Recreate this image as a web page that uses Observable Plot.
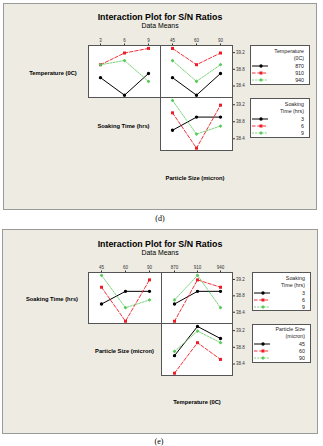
<!DOCTYPE html>
<html><head><meta charset="utf-8">
<script src="https://cdn.jsdelivr.net/npm/d3@7"></script>
<script src="https://cdn.jsdelivr.net/npm/@observablehq/plot@0.6"></script>
<style>
body{margin:0;background:#fff;}
#page{position:relative;width:323px;height:446px;overflow:hidden;font-family:"Liberation Sans",Arial,sans-serif;color:#000;}
.panel{position:absolute;box-sizing:border-box;border:1px solid #9a9a9a;background:#eeebe3;}
.lbl{position:absolute;white-space:nowrap;transform:translate(-50%,-50%);line-height:1;}
.cell,.leg{position:absolute;overflow:visible;}
</style></head><body><div id="page"></div><script>
// ---- data: L9 runs (Temperature, Soaking time, Particle size) and S/N ratio ----
const temperatureLevels = ["870", "910", "940"];
const soakingLevels = ["3", "6", "9"];
const particleLevels = ["45", "60", "90"];
const runTemperature = ["870", "870", "870", "910", "910", "910", "940", "940", "940"];
const runSoaking     = ["3", "6", "9", "3", "6", "9", "3", "6", "9"];
const runParticle    = ["45", "60", "90", "60", "90", "45", "90", "45", "60"];
const runSN          = [38.60, 38.18, 38.70, 38.91, 39.19, 39.30, 38.91, 39.01, 38.51];
const yTicks = [38.4, 38.8, 39.2];
const chartTitle = "Interaction Plot for S/N Ratios";
const chartSubtitle = "Data Means";

const factors = {
  T: {label: "Temperature (0C)", legend: ["Temperature", "(0C)"], levels: temperatureLevels, values: runTemperature},
  S: {label: "Soaking Time (hrs)", legend: ["Soaking", "Time (hrs)"], levels: soakingLevels, values: runSoaking},
  P: {label: "Particle Size (micron)", legend: ["Particle Size", "(micron)"], levels: particleLevels, values: runParticle}
};
const colors = ["#000000", "#ee1c25", "#5cc95c"];
const symbols = ["circle", "square", "diamond2"];
const dashes = [null, "3.5,1.8", "2,1.2"];
const widths = [1, 0.9, 0.8];
const yDomain = [38.125, 39.37];
const FONT = "'Liberation Sans', Arial, sans-serif";

const page = document.getElementById("page");

function panel(x0, y0, x1, y1) {
  const d = document.createElement("div");
  d.className = "panel";
  Object.assign(d.style, {left: x0 + "px", top: y0 + "px", width: (x1 - x0) + "px", height: (y1 - y0) + "px"});
  page.appendChild(d);
}
function label(text, cx, cy, size, bold, family) {
  const d = document.createElement("div");
  d.className = "lbl";
  d.textContent = text;
  Object.assign(d.style, {left: cx + "px", top: cy + "px", fontSize: size + "px", fontWeight: bold ? "bold" : "normal", fontFamily: family || FONT});
  page.appendChild(d);
}

function cell(rowKey, colKey, x0, x1, y0, y1, top, right) {
  const rowF = factors[rowKey], colF = factors[colKey];
  const data = runSN.map((v, i) => ({x: colF.values[i], g: rowF.values[i], v}))
    .sort((a, b) => colF.levels.indexOf(a.x) - colF.levels.indexOf(b.x));
  const mt = top ? 9 : 0, mr = right ? 16 : 0;
  const chart = Plot.plot({
    width: (x1 - x0) + mr, height: (y1 - y0) + mt,
    marginLeft: 0, marginRight: mr, marginTop: mt, marginBottom: 0,
    style: {background: "transparent", fontSize: "4.5px", fontFamily: FONT, overflow: "visible", color: "#333"},
    x: {type: "point", domain: colF.levels, padding: 0.5, axis: top ? "top" : null, tickSize: 2.5, tickPadding: 1, label: null},
    y: {domain: yDomain, axis: right ? "right" : null, ticks: yTicks, tickFormat: d3.format(".1f"), tickSize: 2, tickPadding: 1.5, label: null},
    color: {domain: rowF.levels, range: colors},
    symbol: {domain: rowF.levels, range: symbols},
    marks: [
      Plot.frame({fill: "white"}),
      ...rowF.levels.map((lev, i) => Plot.line(data.filter(d => d.g === lev), {
        x: "x", y: "v", stroke: colors[i], strokeWidth: widths[i], strokeDasharray: dashes[i]
      })),
      Plot.dot(data, {x: "x", y: "v", fill: "g", symbol: "g", r: 1.7, stroke: "none"}),
      Plot.frame({stroke: "#555"})
    ]
  });
  chart.classList.add("cell");
  chart.style.left = x0 + "px";
  chart.style.top = (y0 - mt) + "px";
  page.appendChild(chart);
}

function legend(key, x0, y0, x1, y1, offs) {
  const f = factors[key];
  const w = x1 - x0, h = y1 - y0;
  const svg = d3.create("svg").attr("class", "leg").attr("width", w + 1).attr("height", h + 1)
    .style("left", x0 + "px").style("top", y0 + "px")
    .style("font-family", FONT).style("font-size", "5.3px");
  svg.append("rect").attr("x", 0.5).attr("y", 0.5).attr("width", w - 1).attr("height", h - 1)
    .attr("fill", "white").attr("stroke", "#555");
  const lines = [...f.legend, ...f.levels];
  lines.forEach((t, i) => {
    svg.append("text").attr("x", w - 6).attr("y", offs[i]).attr("text-anchor", "end")
      .attr("dy", "0.35em").attr("fill", "#222").text(t);
  });
  const symMap = {circle: d3.symbolCircle, square: d3.symbolSquare, diamond2: d3.symbolDiamond2};
  f.levels.forEach((lev, i) => {
    const y = offs[i + 2];
    svg.append("line").attr("x1", 2).attr("x2", 18).attr("y1", y).attr("y2", y)
      .attr("stroke", colors[i]).attr("stroke-width", widths[i]).attr("stroke-dasharray", dashes[i]);
    svg.append("path").attr("transform", `translate(11,${y})`)
      .attr("d", d3.symbol(symMap[symbols[i]], Math.PI * 1.7 * 1.7)()).attr("fill", colors[i]);
  });
  page.appendChild(svg.node());
}

// ---- panel (d) ----
panel(3, 3, 317, 210);
label(chartTitle, 160, 17, 8.8, true);
label(chartSubtitle, 160, 26, 6.9, false);
label(factors.T.label, 53, 74, 5.8, true);
label(factors.S.label, 123.5, 127, 5.8, true);
label(factors.P.label, 195, 179, 5.8, true);
cell("T", "S", 88, 160, 45, 97, true, false);
cell("T", "P", 160, 232, 45, 97, true, true);
cell("S", "P", 160, 232, 97, 150, false, true);
legend("T", 250, 45, 310, 85, [6, 13, 21, 28, 35]);
legend("S", 250, 98, 310, 138, [6, 13, 21, 28, 35]);
label("(d)", 160, 219, 8, false, "'Liberation Serif', serif");

// ---- panel (e) ----
panel(2, 229, 318, 434);
label(chartTitle, 160, 244, 8.8, true);
label(chartSubtitle, 160, 253.3, 6.9, false);
label(factors.S.label, 52, 300, 5.8, true);
label(factors.P.label, 124.5, 352, 5.8, true);
label(factors.T.label, 197, 403, 5.8, true);
cell("S", "P", 88, 161, 272, 323, true, false);
cell("S", "T", 161, 232, 272, 323, true, true);
cell("P", "T", 161, 232, 323, 375, false, true);
legend("S", 252, 272, 311, 311, [6, 13, 21, 28, 35]);
legend("P", 252, 324, 311, 363, [5, 12, 20, 27, 34]);
label("(e)", 159, 442, 8, false, "'Liberation Serif', serif");
</script></body></html>
